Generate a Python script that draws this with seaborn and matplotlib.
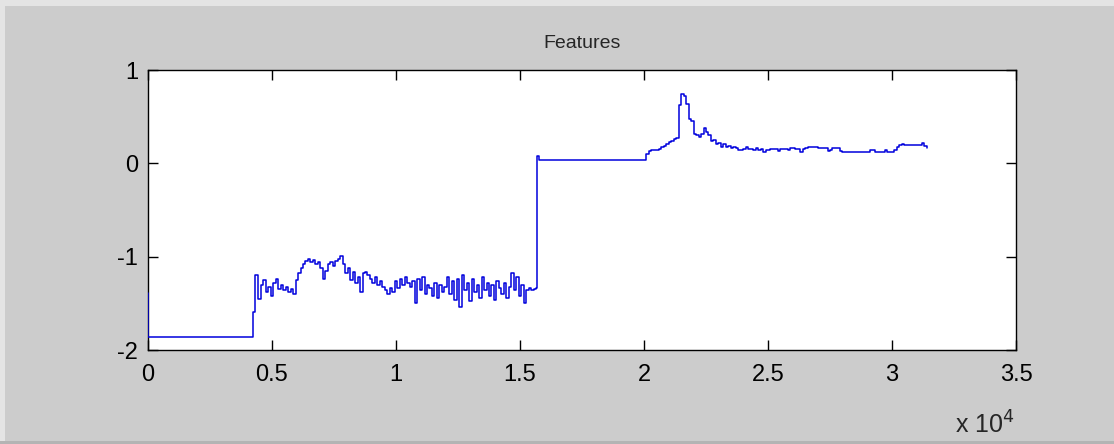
import numpy as np
import pandas as pd
import matplotlib
matplotlib.use("Agg")
import matplotlib.pyplot as plt
from matplotlib.patches import Rectangle
import seaborn as sns

# ---------------- data ----------------
title = "Features"
x_ticks = [0, 5000, 10000, 15000, 20000, 25000, 30000, 35000]
x_tick_labels = ["0", "0.5", "1", "1.5", "2", "2.5", "3", "3.5"]
y_ticks = [-2, -1, 0, 1]
y_tick_labels = ["-2", "-1", "0", "1"]

# initial part: short start then flat level
start_x = [0, 0, 4250, 4300]
start_y = [-1.39, -1.86, -1.59, -1.20]

# noisy segment, one value every 100 samples starting at 4350
noisy_start = 4350
noisy_vals = [
    -1.20, -1.45, -1.30, -1.25, -1.38, -1.32, -1.42, -1.28,
    -1.24, -1.35, -1.30, -1.36, -1.33, -1.38, -1.35, -1.40,
    -1.25, -1.18, -1.12,
    -1.08, -1.05, -1.02, -1.06, -1.04, -1.08, -1.06,
    -1.12, -1.24, -1.15,
    -1.08, -1.06, -1.10, -1.05, -1.03, -0.99,
    -1.08, -1.18, -1.12, -1.25, -1.16, -1.28, -1.22, -1.38,
    -1.18, -1.16, -1.20, -1.24,
    -1.28, -1.22, -1.30, -1.26, -1.32,
    -1.36, -1.40, -1.34, -1.38,
    -1.26, -1.34, -1.24, -1.30, -1.22, -1.28, -1.32, -1.26,
    -1.50,
    -1.24, -1.36, -1.22, -1.40, -1.30,
    -1.34, -1.42, -1.28, -1.44, -1.30, -1.38, -1.32,
    -1.22, -1.40, -1.26, -1.46, -1.24, -1.54,
    -1.20, -1.36, -1.28, -1.48, -1.24, -1.38, -1.30, -1.44, -1.22, -1.36, -1.28, -1.42,
    -1.30, -1.46, -1.26, -1.34, -1.40, -1.28, -1.44, -1.32,
    -1.18, -1.36, -1.22, -1.42,
    -1.30, -1.50,
    -1.36, -1.34, -1.36, -1.35, -1.34,
]

# flat plateau after the big jump
plateau_x = [15700, 15780]
plateau_y = [0.08, 0.035]

# final segment, one value every 100 samples starting at 20000
tail_start = 20000
tail_vals = [
    0.035,
    0.10, 0.13, 0.14, 0.14, 0.14, 0.15,
    0.18, 0.19, 0.21, 0.23,
    0.24, 0.26, 0.27,
    0.62, 0.74, 0.72, 0.64, 0.48, 0.45,
    0.31, 0.30, 0.28, 0.31,
    0.38, 0.34,
    0.30, 0.24, 0.25, 0.21,
    0.22, 0.18, 0.21, 0.17, 0.19, 0.16, 0.18, 0.16,
    0.14, 0.14, 0.15, 0.17, 0.15, 0.15, 0.14, 0.16,
    0.14, 0.15, 0.12, 0.14, 0.14, 0.15, 0.15,
    0.15, 0.13, 0.15, 0.15, 0.15, 0.14, 0.16, 0.16,
    0.15, 0.15, 0.12, 0.15, 0.16, 0.18, 0.17, 0.17,
    0.17, 0.16, 0.16, 0.16, 0.16, 0.13, 0.14,
    0.16, 0.16, 0.16, 0.13, 0.12, 0.12, 0.12,
    0.12, 0.12, 0.12, 0.12, 0.12, 0.12, 0.12, 0.12,
    0.14, 0.14, 0.12, 0.12, 0.12,
    0.12, 0.14, 0.12, 0.12, 0.12, 0.14,
    0.17, 0.20, 0.21, 0.20,
    0.20, 0.20, 0.20, 0.20, 0.20, 0.20,
    0.22, 0.19, 0.16,
]
sample_step = 100

# ---------------- assemble ----------------
noisy_x = [noisy_start + sample_step * i for i in range(len(noisy_vals))]
tail_x = [tail_start + sample_step * i for i in range(len(tail_vals))]
xs = start_x + noisy_x + plateau_x + tail_x
ys = start_y + noisy_vals + plateau_y + tail_vals
df = pd.DataFrame({"sample": xs, "value": ys})

# ---------------- plot ----------------
sns.set_theme(style="white")
plt.rcParams["font.family"] = ["Liberation Sans", "DejaVu Sans"]

W, H = 1114, 444
fig = plt.figure(figsize=(W / 100, H / 100), dpi=100)
fig.patch.set_facecolor("#cccccc")
# window edge bands
fig.patches.append(Rectangle((0, 1 - 6 / H), 1, 6 / H, transform=fig.transFigure,
                             facecolor="#e4e4e4", edgecolor="none", zorder=0))
fig.patches.append(Rectangle((0, 0), 5 / W, 1, transform=fig.transFigure,
                             facecolor="#e4e4e4", edgecolor="none", zorder=0))
fig.patches.append(Rectangle((0, 0), 1, 3 / H, transform=fig.transFigure,
                             facecolor="#b4b4b4", edgecolor="none", zorder=0))

ax = fig.add_axes([148 / W, 1 - 350 / H, (1016 - 148) / W, (350 - 70) / H])
ax.set_facecolor("white")

sns.lineplot(data=df, x="sample", y="value", sort=False, estimator=None,
             color="#0000dd", linewidth=1.1, drawstyle="steps-post", ax=ax,
             zorder=3)

ax.set_xlim(0, 35000)
ax.set_ylim(-2, 1)
ax.set_xticks(x_ticks)
ax.set_xticklabels(x_tick_labels)
ax.set_yticks(y_ticks)
ax.set_yticklabels(y_tick_labels)
ax.set_xlabel("")
ax.set_ylabel("")
ax.tick_params(direction="in", length=7, width=1, colors="black",
               labelsize=17, top=True, right=True, bottom=True, left=True)
ax.tick_params(axis="x", pad=10)
ax.tick_params(axis="y", pad=7)
for s in ax.spines.values():
    s.set_visible(True)
    s.set_color("black")
    s.set_linewidth(1.0)
    s.set_zorder(2.5)
ax.grid(False)

ax.set_title(title, fontsize=14, pad=16)
fig.text(1015 / W, 1 - 425 / H, r"x 10$^{4}$", fontsize=18,
         ha="right", va="center")

fig.savefig("out.png", dpi=100, facecolor=fig.get_facecolor())
